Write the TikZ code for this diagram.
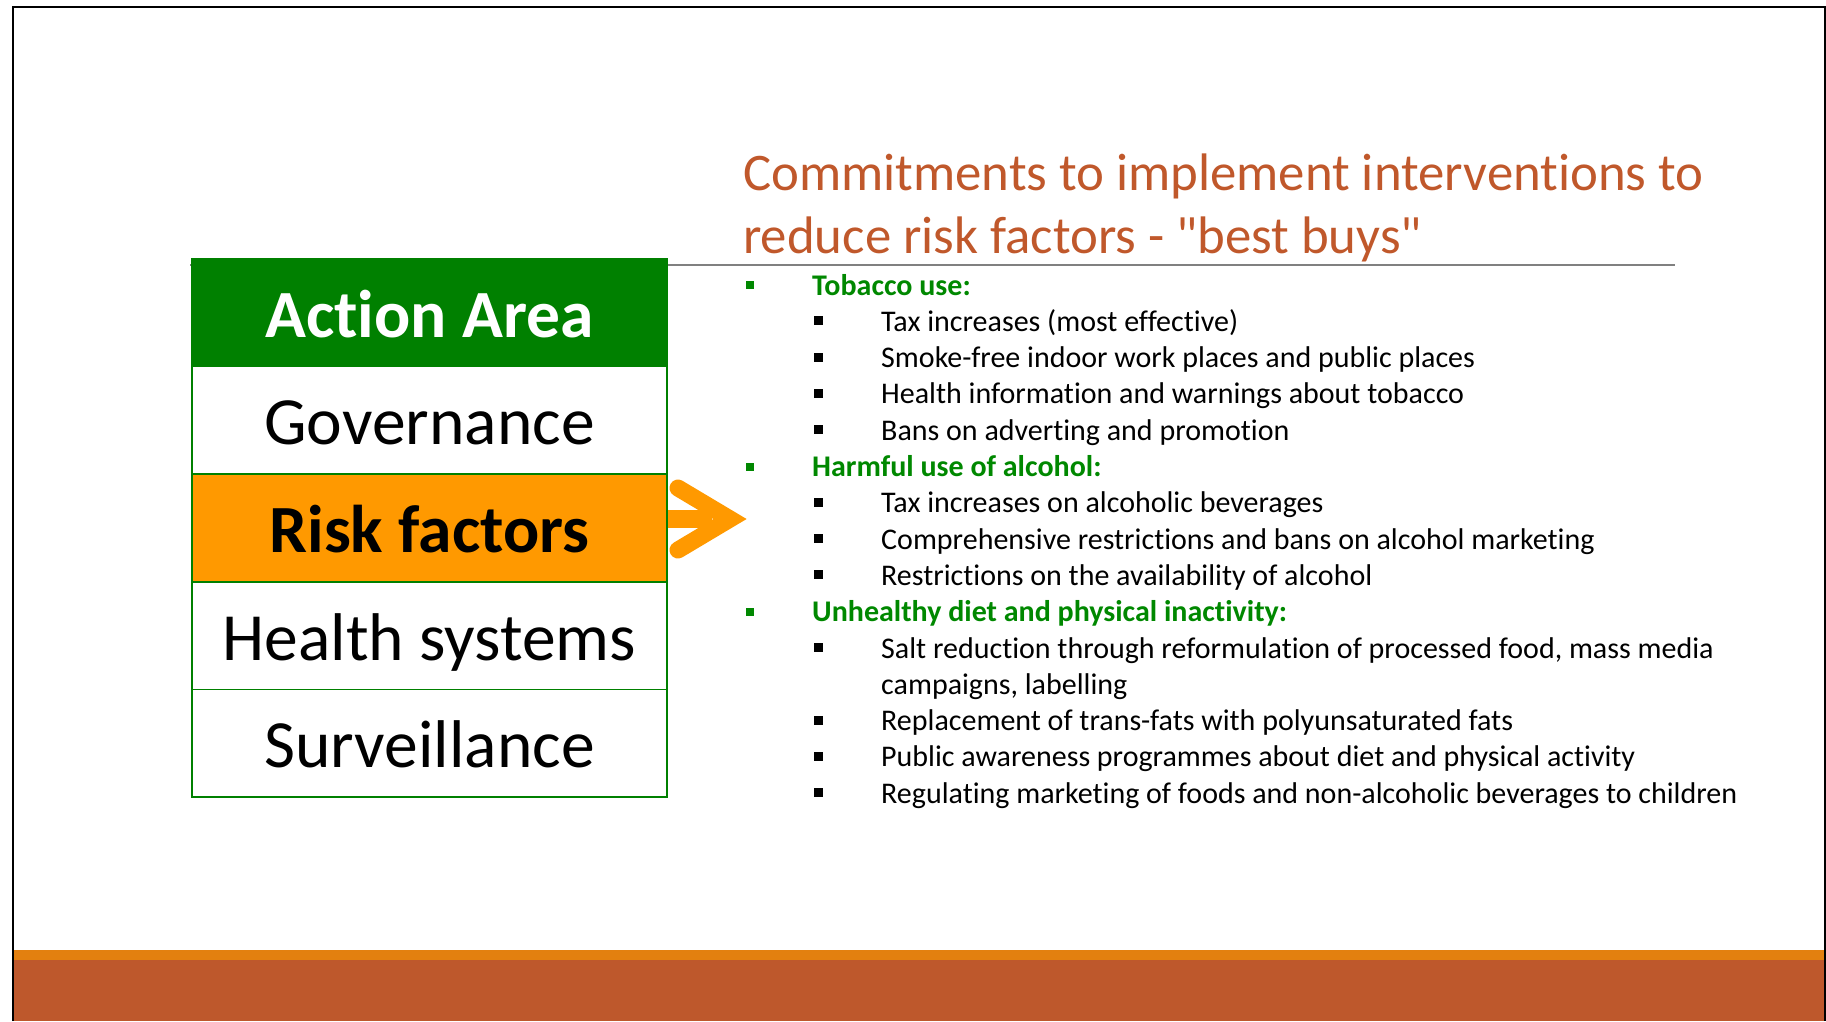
\documentclass[tikz,border=0pt]{standalone}
\usepackage{fontspec}
\setmainfont{Carlito}
\newfontfamily\calibri{Carlito}[Ligatures=NoCommon]
\usetikzlibrary{positioning}

\definecolor{headgreen}{RGB}{0,128,0}
\definecolor{riskorange}{RGB}{255,153,0}
\definecolor{titlebrown}{RGB}{192,88,43}
\definecolor{barorange}{RGB}{227,128,15}
\definecolor{barbrown}{RGB}{190,88,44}
\definecolor{listgreen}{RGB}{0,136,0}

% square bullets, hung left of the text
\newcommand{\sqg}{\leavevmode\llap{\textcolor{listgreen}{\rule[6pt]{8pt}{8pt}}\hspace{58pt}}}
\newcommand{\sqb}{\leavevmode\llap{\rule[6pt]{9pt}{9pt}\hspace{58pt}}}

\tikzset{
  cell/.style={draw=headgreen, line width=1.5pt, fill=white, minimum width=475pt,
    minimum height=107.6pt, outer sep=0pt, inner sep=0pt, text height=51pt,
    text depth=2pt, font=\calibri\fontsize{67.5}{72}\selectfont},
  headcell/.style={cell, fill=headgreen, text=white, font=\calibri\fontsize{67.5}{72}\selectfont\bfseries},
  riskcell/.style={cell, fill=riskorange, font=\calibri\fontsize{67.5}{72}\selectfont\bfseries},
  head/.style={anchor=base west, inner sep=0pt, text=listgreen,
    font=\calibri\fontsize{30}{36.3}\selectfont\bfseries},
  item/.style={anchor=base west, inner sep=0pt, font=\calibri\fontsize{30}{36.3}\selectfont},
}

\begin{document}
\begin{tikzpicture}[x=1pt, y=-1pt]
  \useasboundingbox (0,0) rectangle (1826,1021);

  % footer and frame
  \fill[barorange] (14,950) rectangle (1824,960);
  \fill[barbrown] (14,960) rectangle (1824,1021);
  \draw[line width=2.5pt] (13,1021) -- (13,7) -- (1825,7) -- (1825,1021);

  % title
  \draw[gray, line width=1.5pt] (190,265) -- (1675,265);
  \node[anchor=base west, inner sep=0pt, text=titlebrown, font=\calibri\fontsize{52.8}{63}\selectfont] (title) at (743,190.5)
    {\parbox[t]{1000pt}{Commitments to implement interventions to\\reduce risk factors - "best buys"}};

  % action areas
  \node[headcell] (actarea) at (429.5,312.8) {Action Area};
  \node[cell, below=0pt of actarea] (governance) {Governance};
  \node[riskcell, below=0pt of governance] (risk) {Risk factors};
  \node[cell, below=0pt of risk] (health) {Health systems};
  \node[cell, below=0pt of health] (surveillance) {Surveillance};

  % arrow from risk factors
  \begin{scope}[shift={(risk.east)}]
    \fill[riskorange] (1,-18) rectangle (45,0);
    \draw[riskorange, line width=17pt, line cap=round, line join=miter] (11,-40) -- (63,-9) -- (11,22);
  \end{scope}

  % best buys
  \node[head] (tobacco) at (812,295) {\sqg Tobacco use:};
  \node[item] (tob1) at (881,331.3) {\sqb Tax increases (most effective)};
  \node[item] (tob2) at (881,367.6) {\sqb Smoke-free indoor work places and public places};
  \node[item] (tob3) at (881,403.9) {\sqb Health information and warnings about tobacco};
  \node[item] (tob4) at (881,440.2) {\sqb Bans on adverting and promotion};
  \node[head] (alcohol) at (812,476.5) {\sqg Harmful use of alcohol:};
  \node[item] (alc1) at (881,512.8) {\sqb Tax increases on alcoholic beverages};
  \node[item] (alc2) at (881,549.1) {\sqb Comprehensive restrictions and bans on alcohol marketing};
  \node[item] (alc3) at (881,585.4) {\sqb Restrictions on the availability of alcohol};
  \node[head] (diet) at (812,621.7) {\sqg Unhealthy diet and physical inactivity:};
  \node[item] (diet1) at (881,658) {\parbox[t]{900pt}{\sqb Salt reduction through reformulation of processed food, mass media\\campaigns, labelling}};
  \node[item] (diet2) at (881,730.6) {\sqb Replacement of trans-fats with polyunsaturated fats};
  \node[item] (diet3) at (881,766.9) {\sqb Public awareness programmes about diet and physical activity};
  \node[item] (diet4) at (881,803.2) {\sqb Regulating marketing of foods and non-alcoholic beverages to children};
\end{tikzpicture}
\end{document}
